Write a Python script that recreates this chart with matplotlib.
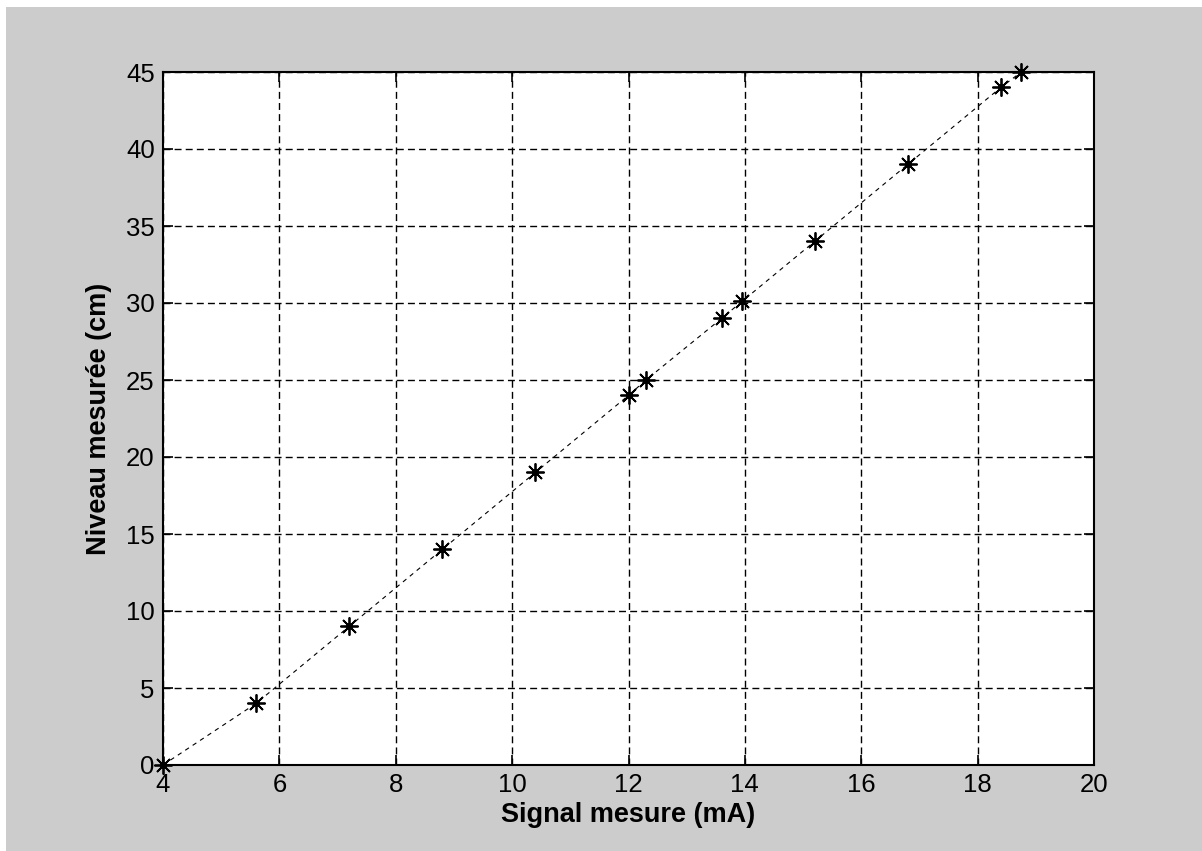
import matplotlib.pyplot as plt
from matplotlib.patches import Rectangle

# signal (mA) vs measured level (cm)
signal_ma = [4.0, 5.6, 7.2, 8.8, 10.4, 12.0, 12.3, 13.6, 13.95, 15.2, 16.8, 18.4, 18.75]
niveau_cm = [0, 4, 9, 14, 19, 24, 25, 29, 30.1, 34, 39, 44, 45]

x_ticks = [4, 6, 8, 10, 12, 14, 16, 18, 20]
y_ticks = [0, 5, 10, 15, 20, 25, 30, 35, 40, 45]

plt.rcParams['font.family'] = ['Liberation Sans', 'DejaVu Sans']

fig = plt.figure(figsize=(12.02, 8.51), dpi=100, facecolor='#cccccc')
# thin white strip top/left, like the screenshot
fig.patches.append(Rectangle((0, 1 - 7 / 851), 1, 7 / 851, transform=fig.transFigure,
                             facecolor='white', edgecolor='none', zorder=-1))
fig.patches.append(Rectangle((0, 0), 6 / 1202, 1, transform=fig.transFigure,
                             facecolor='white', edgecolor='none', zorder=-1))

ax = fig.add_axes([163 / 1202, 86 / 851, 931 / 1202, 693 / 851])
ax.set_facecolor('white')

ax.plot(signal_ma, niveau_cm, color='black', lw=0.8, linestyle=(0, (4, 4)), zorder=3)
ax.plot(signal_ma, niveau_cm, linestyle='none', marker=(8, 2, 0), markersize=13,
        markeredgecolor='black', markeredgewidth=1.3, clip_on=False, zorder=4)
ax.plot(signal_ma, niveau_cm, linestyle='none', marker='o', markersize=4,
        color='black', clip_on=False, zorder=4)

ax.set_xlim(4, 20)
ax.set_ylim(0, 45)
ax.set_xticks(x_ticks)
ax.set_yticks(y_ticks)
ax.grid(True, color='black', linestyle=(0, (5, 3)), linewidth=1.0)
ax.tick_params(direction='in', length=7, width=1.2, top=True, right=True,
               labelsize=18.5, colors='black', pad=6)
for s in ax.spines.values():
    s.set_linewidth(1.5)

ax.set_xlabel('Signal mesure (mA)', fontsize=19.5, fontweight='bold', labelpad=3)
ax.set_ylabel('Niveau mesurée (cm)', fontsize=19.5, fontweight='bold', labelpad=10)

fig.savefig('out.png', dpi=100, facecolor=fig.get_facecolor())
